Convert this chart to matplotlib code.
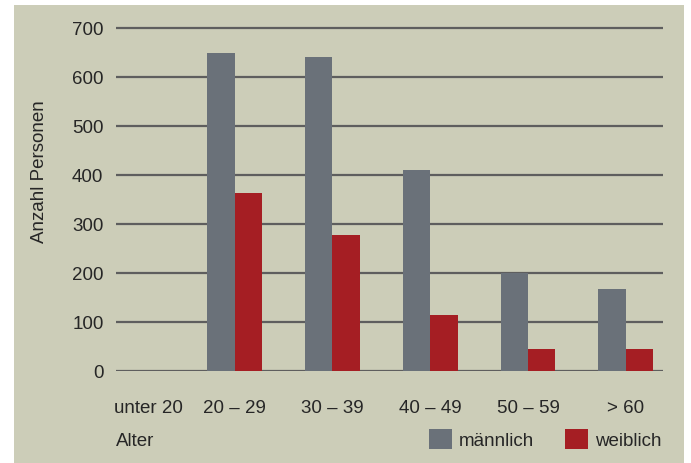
import numpy as np
import matplotlib
matplotlib.use("Agg")
import matplotlib.pyplot as plt
from matplotlib.patches import Patch, Rectangle

# Daten
categories = ["unter 20", "20 – 29", "30 – 39", "40 – 49", "50 – 59", "> 60"]
maennlich = [0, 648, 640, 410, 200, 167]
weiblich = [0, 364, 278, 115, 44, 44]
y_ticks = [0, 100, 200, 300, 400, 500, 600, 700]

BG = "#cccdb8"
GRAU = "#6a7179"
ROT = "#a51e23"
TXT = "#262626"
FS = 13.5

plt.rcParams['font.family'] = ['Liberation Sans', 'DejaVu Sans']

W, H = 691, 464
fig = plt.figure(figsize=(W / 100, H / 100), dpi=100, facecolor="white")

# beiger Hintergrund in eigener Achse ganz hinten
bg = fig.add_axes([0, 0, 1, 1], zorder=-10)
bg.axis("off")
bg.add_patch(Rectangle((14 / W, 0), (684 - 14) / W, (H - 6) / H,
                       transform=bg.transAxes, facecolor=BG, edgecolor="none"))

ax_left, ax_right = 116 / W, 663 / W
ax_bottom = 1 - 372 / H
ax_top = 1 - 24 / H
ax = fig.add_axes([ax_left, ax_bottom, ax_right - ax_left, ax_top - ax_bottom])
ax.set_facecolor("none")

x = np.arange(len(categories))
bw = 0.281
ax.bar(x - bw / 2, maennlich, bw, color=GRAU, zorder=3, label="männlich")
ax.bar(x + bw / 2, weiblich, bw, color=ROT, zorder=3, label="weiblich")

ax.set_xlim(-0.212, 5.38)
ax.set_ylim(0, 710)

for yv in y_ticks:
    ax.axhline(yv, color="#5e5e5e", lw=1.6, zorder=2)

ax.set_yticks(y_ticks)
ax.set_yticklabels([str(v) for v in y_ticks])
xt = x.astype(float)
xt[0] = 0.12
ax.set_xticks(xt)
ax.set_xticklabels(categories)
ax.tick_params(axis="both", length=0, labelsize=FS, colors=TXT)
ax.tick_params(axis="y", pad=9)
ax.tick_params(axis="x", pad=20)
for s in ax.spines.values():
    s.set_visible(False)

fig.text(39 / W, 1 - 172 / H, "Anzahl Personen", rotation=90, ha="center",
         va="center", fontsize=FS, color=TXT)
fig.text(116 / W, 1 - 441 / H, "Alter", ha="left", va="center",
         fontsize=FS, color=TXT)

handles = [Patch(facecolor=GRAU, edgecolor="none"), Patch(facecolor=ROT, edgecolor="none")]
fig.legend(handles, ["männlich", "weiblich"], loc="center left",
           bbox_to_anchor=(429 / W, 1 - 440 / H), ncol=2, frameon=False,
           fontsize=FS, handlelength=1.23, handleheight=1.23,
           handletextpad=0.37, columnspacing=1.65, borderpad=0,
           borderaxespad=0, labelcolor=TXT)

fig.savefig("out.png", dpi=100, facecolor="white")
